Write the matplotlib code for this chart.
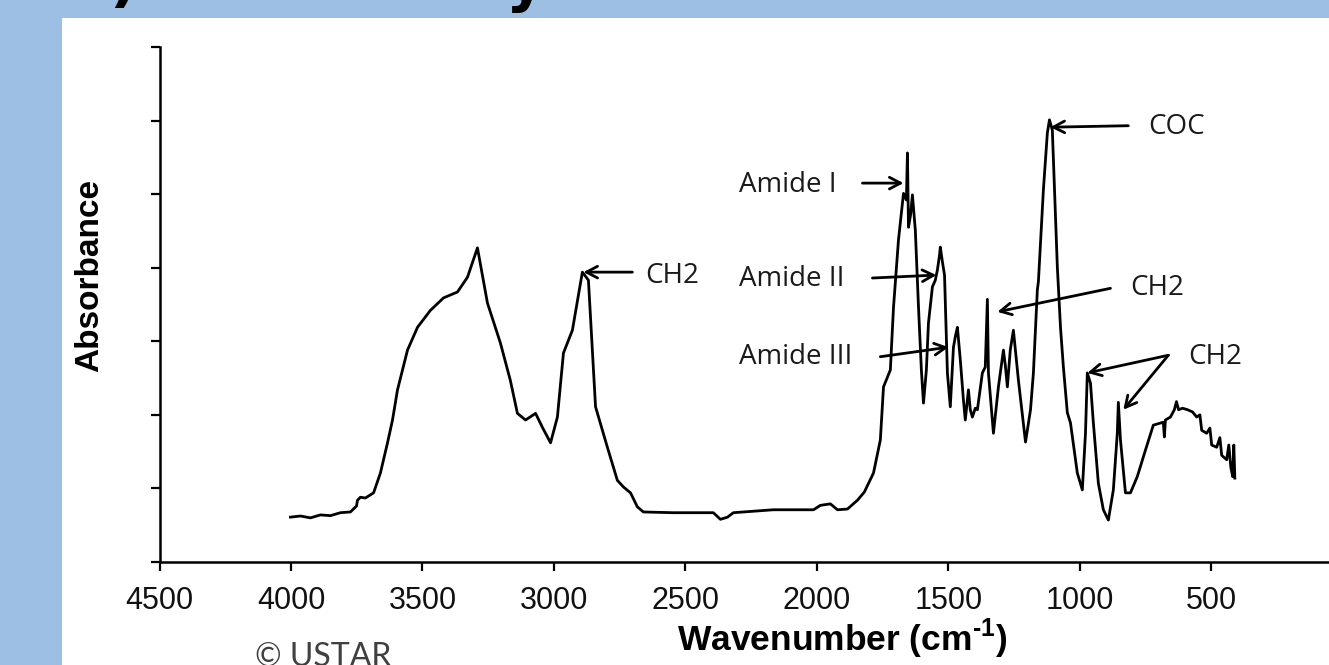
import matplotlib
matplotlib.use("Agg")
import matplotlib.pyplot as plt
from matplotlib.patches import Rectangle

# FTIR spectrum (wavenumber in cm-1, absorbance in arbitrary units)
wavenumber = [4002, 3964, 3926, 3888, 3850, 3812, 3774, 3751, 3747, 3736, 3717, 3686,
              3660, 3633, 3614, 3595, 3557, 3519, 3470, 3420, 3367, 3329, 3291, 3253,
              3204, 3166, 3139, 3108, 3070, 3044, 3013, 2987, 2964, 2930, 2892, 2869,
              2842, 2797, 2759, 2736, 2709, 2683, 2660, 2546, 2394, 2367, 2340, 2318,
              2166, 2013, 1987, 1949, 1922, 1884, 1846, 1820, 1785, 1759, 1747, 1721,
              1709, 1690, 1671, 1660, 1656, 1652, 1644, 1637, 1626, 1614, 1603, 1595,
              1584, 1576, 1561, 1550, 1542, 1534, 1531, 1523, 1515, 1504, 1493, 1481,
              1473, 1466, 1455, 1443, 1436, 1424, 1417, 1409, 1398, 1390, 1371, 1360,
              1352, 1348, 1329, 1310, 1291, 1284, 1276, 1265, 1253, 1234, 1207, 1188,
              1177, 1162, 1158, 1139, 1124, 1116, 1105, 1086, 1074, 1063, 1048, 1036,
              1010, 991, 979, 972, 960, 949, 930, 911, 892, 873, 858, 854,
              846, 827, 808, 782, 751, 721, 683, 679, 675, 656, 641, 633,
              625, 610, 591, 572, 556, 544, 537, 518, 506, 499, 480, 468,
              461, 442, 434, 426, 419, 415, 411]
absorbance = [.061, .0625, .060, .064, .063, .067, .068, .076, .084, .088, .087, .094,
              .121, .162, .193, .234, .288, .319, .342, .359, .367, .387, .427, .352,
              .298, .247, .202, .193, .202, .183, .162, .197, .284, .315, .394, .383,
              .211, .156, .111, .102, .094, .075, .068, .067, .067, .058, .061, .067,
              .071, .071, .077, .079, .071, .072, .084, .095, .121, .166, .238, .261,
              .346, .438, .501, .492, .556, .455, .472, .499, .451, .347, .261, .216,
              .261, .325, .374, .383, .397, .417, .428, .408, .390, .257, .211, .292,
              .308, .319, .275, .220, .193, .234, .207, .197, .209, .207, .257, .265,
              .357, .257, .175, .238, .288, .268, .238, .288, .315, .247, .163, .207,
              .257, .370, .381, .506, .583, .601, .587, .401, .319, .265, .203, .189,
              .121, .098, .175, .257, .243, .189, .107, .071, .057, .098, .175, .217,
              .166, .094, .094, .116, .152, .186, .190, .170, .193, .197, .207, .218,
              .207, .209, .207, .204, .197, .200, .179, .175, .182, .159, .156, .169,
              .145, .139, .159, .128, .116, .159, .114]

x_ticks = [4500, 4000, 3500, 3000, 2500, 2000, 1500, 1000, 500]
y_ticks = [0, 0.1, 0.2, 0.3, 0.4, 0.5, 0.6, 0.7]

W, H = 1329, 665
plt.rcParams['mathtext.fontset'] = 'custom'
plt.rcParams['mathtext.bf'] = 'Liberation Sans:bold'
plt.rcParams['mathtext.rm'] = 'Liberation Sans'

fig = plt.figure(figsize=(W / 100, H / 100), dpi=100, facecolor='#9dbfe4')

# white slide panel
fig.patches.append(Rectangle((62 / W, 0), 1 - 62 / W, 1 - 18 / H, transform=fig.transFigure,
                             facecolor='white', edgecolor='none', zorder=-5))

# bits of the slide title cut off at the top
fig.text(137 / W, 1.0, ')', fontsize=44, fontweight='bold', ha='right', va='baseline')
fig.text(505 / W, 1.0, 'y', fontsize=44, fontweight='bold', ha='left', va='baseline')

ax = fig.add_axes([159.5 / W, (H - 562) / H, (W - 159.5) / W, (562 - 47) / H])
ax.set_facecolor('none')
ax.plot(wavenumber, absorbance, color='black', lw=2.0)

ax.set_xlim(4500, 53)
ax.set_ylim(0, 0.7)
ax.set_xticks(x_ticks)
ax.set_yticks(y_ticks)
ax.set_yticklabels([])
for s in ['top', 'right']:
    ax.spines[s].set_visible(False)
for s in ['left', 'bottom']:
    ax.spines[s].set_linewidth(1.8)
ax.tick_params(direction='out', length=6.5, width=1.6, labelsize=22, pad=11)
for lab in ax.get_xticklabels():
    lab.set_fontfamily('Liberation Sans')
    lab.set_color('#111111')

fig.text(90 / W, (H - 276) / H, 'Absorbance', rotation=90, ha='center', va='center',
         fontsize=24, fontweight='bold', family='Liberation Sans')
fig.text(842 / W, (H - 639) / H, 'Wavenumber (cm$^{\\mathbf{\u20101}}$)', ha='center', va='center',
         fontsize=25.5, fontweight='bold', family='Liberation Sans')

fig.text(255 / W, (H - 666) / H, '© USTAR', ha='left', va='baseline', fontsize=23,
         family='Lato', color='#404040')

# peak labels and arrows
arrow = dict(arrowstyle='->,head_length=0.8,head_width=0.42', color='black', lw=2.0,
             shrinkA=0, shrinkB=0)
lab_kw = dict(fontsize=20, family='Open Sans', color='#1a1a1a', va='center', ha='left')

ax.text(2652, 0.389, 'CH2', **lab_kw)
ax.annotate('', xy=(2888, 0.394), xytext=(2702, 0.394), arrowprops=arrow)

ax.text(2298, 0.512, 'Amide I', **lab_kw)
ax.annotate('', xy=(1671, 0.515), xytext=(1827, 0.515), arrowprops=arrow)

ax.text(2298, 0.385, 'Amide II', **lab_kw)
ax.annotate('', xy=(1546, 0.390), xytext=(1789, 0.386), arrowprops=arrow)

ax.text(2298, 0.279, 'Amide III', **lab_kw)
ax.annotate('', xy=(1500, 0.292), xytext=(1759, 0.279), arrowprops=arrow)

ax.text(740, 0.591, 'COC', **lab_kw)
ax.annotate('', xy=(1112, 0.591), xytext=(816, 0.593), arrowprops=arrow)

ax.text(808, 0.372, 'CH2', **lab_kw)
ax.annotate('', xy=(1314, 0.340), xytext=(884, 0.372), arrowprops=arrow)

ax.text(587, 0.279, 'CH2', **lab_kw)
ax.annotate('', xy=(972, 0.257), xytext=(664, 0.281), arrowprops=arrow)
ax.annotate('', xy=(835, 0.207), xytext=(664, 0.281), arrowprops=arrow)

fig.savefig('out.png', dpi=100, facecolor=fig.get_facecolor())
